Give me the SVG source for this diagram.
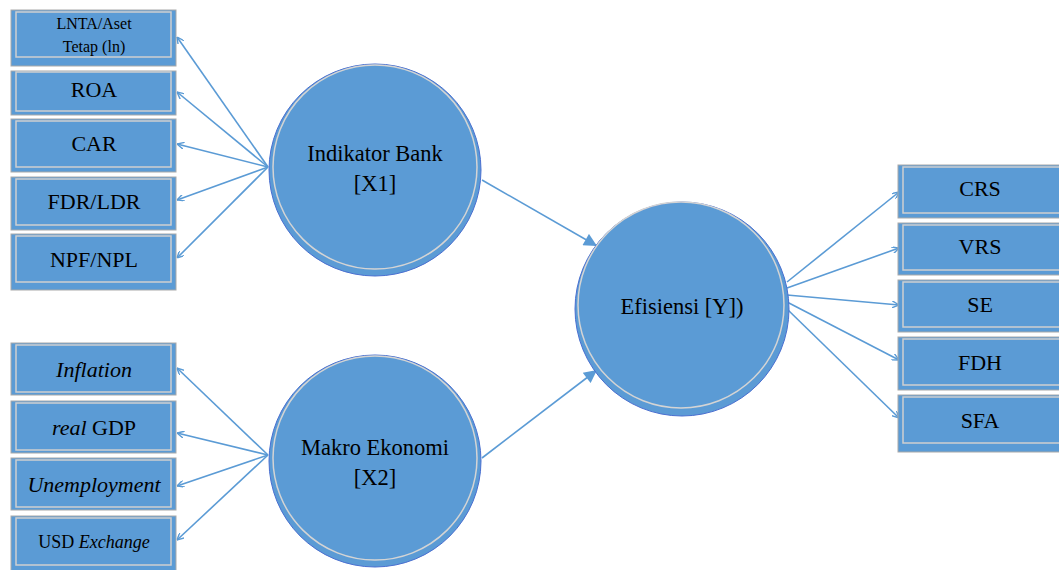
<svg xmlns="http://www.w3.org/2000/svg" width="1059" height="570" viewBox="0 0 1059 570" font-family="'Liberation Serif','Times New Roman',serif">
<style>
.box{fill:#5b9bd5;stroke:#a9a9a9;stroke-width:1}
.inner{fill:none;stroke:#cfcfcf;stroke-width:1.5}
.circ{fill:#5b9bd5;stroke:#4a6fd0;stroke-width:1}
.cin{fill:none;stroke:#d4d4d4;stroke-width:1.5}
text{font-family:"Liberation Serif","Times New Roman",serif;fill:#000;text-anchor:middle;dominant-baseline:central}
.t{font-size:22px}
.c{font-size:22.5px}
.i{font-style:italic}
.conn line{stroke:#5b9bd5;stroke-width:1.6}
</style>
<defs>
<marker id="sm" viewBox="0 0 10 10" refX="10" refY="5" markerWidth="7" markerHeight="7" orient="auto" markerUnits="userSpaceOnUse">
<path d="M0,0 L10,5 L0,10" fill="none" stroke="#5b9bd5" stroke-width="2"/>
</marker>
<marker id="big" viewBox="0 0 10 10" refX="10" refY="5" markerWidth="15" markerHeight="13" orient="auto" markerUnits="userSpaceOnUse">
<path d="M0,0 L10,5 L0,10 z" fill="#5b9bd5"/>
</marker>
</defs>

<g class="conn">
<line x1="268" y1="167" x2="177" y2="37" marker-end="url(#sm)"/>
<line x1="268" y1="167" x2="177" y2="92" marker-end="url(#sm)"/>
<line x1="268" y1="167" x2="177" y2="144" marker-end="url(#sm)"/>
<line x1="268" y1="167" x2="177" y2="200" marker-end="url(#sm)"/>
<line x1="268" y1="167" x2="177" y2="258" marker-end="url(#sm)"/>
<line x1="268" y1="455" x2="177" y2="368" marker-end="url(#sm)"/>
<line x1="268" y1="455" x2="177" y2="433" marker-end="url(#sm)"/>
<line x1="268" y1="455" x2="177" y2="486" marker-end="url(#sm)"/>
<line x1="268" y1="455" x2="177" y2="540" marker-end="url(#sm)"/>
<line x1="482" y1="180" x2="597" y2="246" marker-end="url(#big)"/>
<line x1="482" y1="458" x2="597" y2="370" marker-end="url(#big)"/>
<line x1="787" y1="282" x2="899" y2="192" marker-end="url(#sm)"/>
<line x1="787" y1="288" x2="899" y2="248" marker-end="url(#sm)"/>
<line x1="787" y1="295" x2="899" y2="305" marker-end="url(#sm)"/>
<line x1="787" y1="302" x2="899" y2="360" marker-end="url(#sm)"/>
<line x1="787" y1="309" x2="899" y2="418" marker-end="url(#sm)"/>
</g>

<g id="n-lnta"><rect class="box" x="11" y="10" width="165" height="56"/><rect class="inner" x="16" y="12" width="155" height="45"/>
<text x="94" y="23" font-size="16">LNTA/Aset</text><text x="94" y="46" font-size="16">Tetap (ln)</text></g>
<g id="n-roa"><rect class="box" x="11" y="71" width="165" height="44"/><rect class="inner" x="16" y="72" width="155" height="39"/><text class="t" x="94" y="89">ROA</text></g>
<g id="n-car"><rect class="box" x="11" y="119" width="165" height="53"/><rect class="inner" x="16" y="121" width="155" height="46"/><text class="t" x="94" y="143">CAR</text></g>
<g id="n-fdr"><rect class="box" x="11" y="177" width="165" height="53"/><rect class="inner" x="16" y="179" width="155" height="46"/><text class="t" x="94" y="201">FDR/LDR</text></g>
<g id="n-npf"><rect class="box" x="11" y="234" width="165" height="56"/><rect class="inner" x="16" y="236" width="155" height="46"/><text class="t" x="94" y="259">NPF/NPL</text></g>

<g id="n-infl"><rect class="box" x="11" y="343" width="165" height="52"/><rect class="inner" x="16" y="345" width="155" height="47"/><text class="t i" x="94" y="369">Inflation</text></g>
<g id="n-gdp"><rect class="box" x="11" y="401" width="165" height="52"/><rect class="inner" x="16" y="403" width="155" height="47"/><text class="t" x="94" y="427"><tspan font-style="italic">real</tspan> GDP</text></g>
<g id="n-unemp"><rect class="box" x="11" y="458" width="165" height="52"/><rect class="inner" x="16" y="460" width="155" height="47"/><text class="t i" x="94" y="484">Unemployment</text></g>
<g id="n-usd"><rect class="box" x="11" y="516" width="165" height="56"/><rect class="inner" x="16" y="518" width="155" height="47"/><text x="94" y="542" font-size="18">USD <tspan font-style="italic">Exchange</tspan></text></g>

<g id="n-x1"><circle class="circ" cx="375" cy="170" r="106"/><circle class="cin" cx="375" cy="167" r="102"/>
<text class="c" x="375" y="153">Indikator Bank</text><text class="c" x="375" y="183">[X1]</text></g>
<g id="n-x2"><circle class="circ" cx="375" cy="461" r="106"/><circle class="cin" cx="375" cy="458" r="102"/>
<text class="c" x="375" y="447">Makro Ekonomi</text><text class="c" x="375" y="477">[X2]</text></g>
<g id="n-y"><circle class="circ" cx="682" cy="309" r="107"/><circle class="cin" cx="681" cy="305" r="103"/>
<text class="c" x="682" y="306">Efisiensi [Y])</text></g>

<g id="n-crs"><rect class="box" x="898" y="165" width="165" height="53"/><rect class="inner" x="903" y="167" width="160" height="46"/><text class="t" x="980" y="188">CRS</text></g>
<g id="n-vrs"><rect class="box" x="898" y="223" width="165" height="52"/><rect class="inner" x="903" y="225" width="160" height="45"/><text class="t" x="980" y="246">VRS</text></g>
<g id="n-se"><rect class="box" x="898" y="280" width="165" height="52"/><rect class="inner" x="903" y="282" width="160" height="45"/><text class="t" x="980" y="304">SE</text></g>
<g id="n-fdh"><rect class="box" x="898" y="337" width="165" height="53"/><rect class="inner" x="903" y="339" width="160" height="46"/><text class="t" x="980" y="362">FDH</text></g>
<g id="n-sfa"><rect class="box" x="898" y="395" width="165" height="57"/><rect class="inner" x="903" y="397" width="160" height="46"/><text class="t" x="980" y="420">SFA</text></g>
</svg>
